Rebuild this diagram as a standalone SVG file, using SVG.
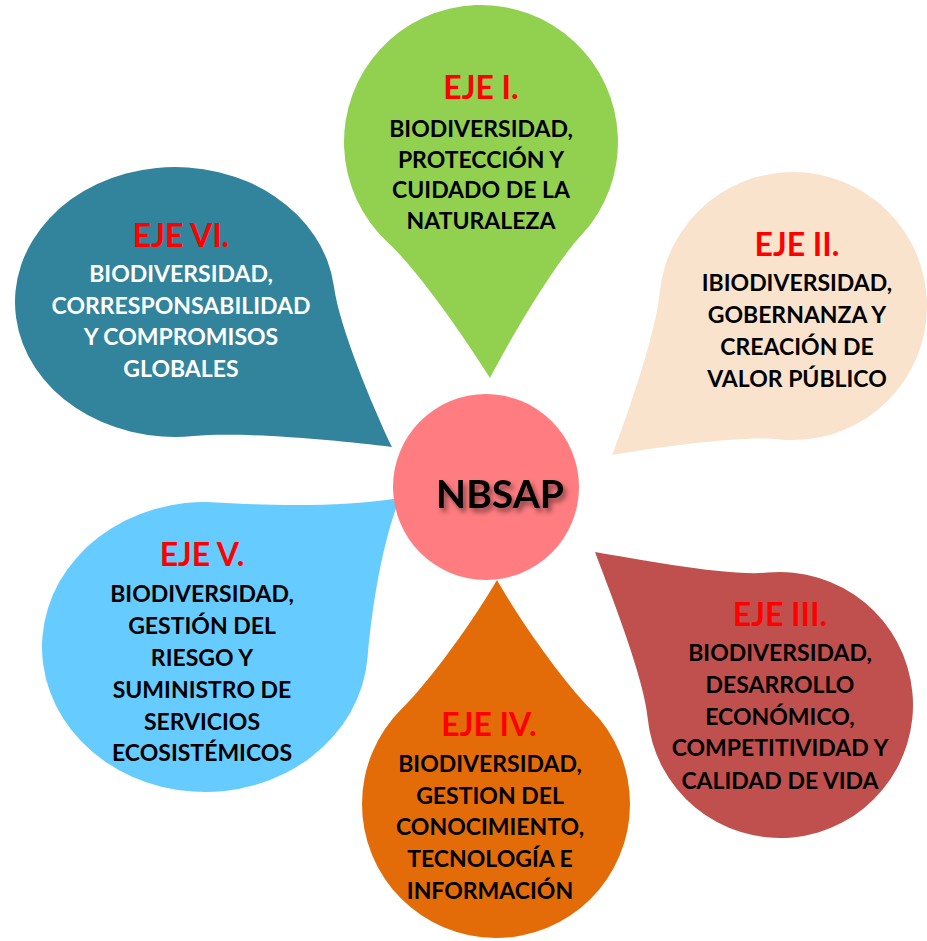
<svg xmlns="http://www.w3.org/2000/svg" width="927" height="941" viewBox="0 0 927 941">
<defs>
<style>
.t{font-family:Lato,"Liberation Sans",sans-serif;font-weight:700;text-anchor:middle}
.h{font-size:32px;fill:#FF0000}
.b{font-size:23px;fill:#000000}
.w{fill:#FFFFFF}
.c{font-size:39px;fill:#000000}
</style>
<filter id="sh" x="-20%" y="-30%" width="140%" height="170%">
<feDropShadow dx="3" dy="4" stdDeviation="2.5" flood-color="#000000" flood-opacity="0.45"/>
</filter>
</defs>
<rect width="927" height="941" fill="#FFFFFF"/>

<g id="eje1">
<path transform="translate(481 142) rotate(87.82) scale(137)" fill="#92D050" d="M0.7071 -0.7071 C0.919 -0.495 1.419 -0.175 1.724 0 C1.419 0.175 0.919 0.495 0.7071 0.7071 A1 1 0 1 1 0.7071 -0.7071Z"/>
<text class="t h" x="481" y="99">EJE I.</text>
<text class="t b"><tspan x="481" y="137">BIODIVERSIDAD,</tspan><tspan x="481" y="167.5">PROTECCIÓN Y</tspan><tspan x="481" y="198">CUIDADO DE LA</tspan><tspan x="481" y="228.5">NATURALEZA</tspan></text>
</g>

<g id="eje2">
<path transform="translate(793 306) rotate(140.5) scale(134)" fill="#FAE3CD" d="M0.7071 -0.7071 C0.919 -0.495 1.444 -0.175 1.749 0 C1.444 0.175 0.919 0.495 0.7071 0.7071 A1 1 0 1 1 0.7071 -0.7071Z"/>
<text class="t h" x="797" y="256">EJE II.</text>
<text class="t b"><tspan x="797" y="290.5">IBIODIVERSIDAD,</tspan><tspan x="797" y="323">GOBERNANZA Y</tspan><tspan x="797" y="355">CREACIÓN DE</tspan><tspan x="797" y="387">VALOR PÚBLICO</tspan></text>
</g>

<g id="eje3">
<path transform="translate(780 705) rotate(-140.4) scale(133)" fill="#C0504D" d="M0.7071 -0.7071 C0.919 -0.495 1.5 -0.175 1.805 0 C1.5 0.175 0.919 0.495 0.7071 0.7071 A1 1 0 1 1 0.7071 -0.7071Z"/>
<text class="t h" x="780" y="626">EJE III.</text>
<text class="t b"><tspan x="780" y="660.5">BIODIVERSIDAD,</tspan><tspan x="780" y="692.5">DESARROLLO</tspan><tspan x="780" y="724.5">ECONÓMICO,</tspan><tspan x="780" y="756">COMPETITIVIDAD Y</tspan><tspan x="780" y="788.5">CALIDAD DE VIDA</tspan></text>
</g>

<g id="eje4">
<path transform="translate(496 804) rotate(-89.74) scale(134)" fill="#E36C09" d="M0.7071 -0.7071 C0.919 -0.495 1.367 -0.175 1.672 0 C1.367 0.175 0.919 0.495 0.7071 0.7071 A1 1 0 1 1 0.7071 -0.7071Z"/>
<text class="t h" x="489" y="735.5">EJE IV.</text>
<text class="t b"><tspan x="490" y="771.5">BIODIVERSIDAD,</tspan><tspan x="490" y="803.5">GESTION DEL</tspan><tspan x="490" y="835">CONOCIMIENTO,</tspan><tspan x="490" y="867">TECNOLOGÍA E</tspan><tspan x="490" y="898.5">INFORMACIÓN</tspan></text>
</g>

<g id="eje5">
<path transform="translate(205 647) scale(163 145) rotate(-40.7)" fill="#66CCFF" d="M0.7071 -0.7071 C0.919 -0.495 1.272 -0.175 1.577 0 C1.272 0.175 0.919 0.495 0.7071 0.7071 A1 1 0 1 1 0.7071 -0.7071Z"/>
<text class="t h" x="202" y="566">EJE V.</text>
<text class="t b"><tspan x="202" y="601.5">BIODIVERSIDAD,</tspan><tspan x="202" y="633.5">GESTIÓN DEL</tspan><tspan x="202" y="665.5">RIESGO Y</tspan><tspan x="202" y="697.5">SUMINISTRO DE</tspan><tspan x="202" y="729.5">SERVICIOS</tspan><tspan x="202" y="761">ECOSISTÉMICOS</tspan></text>
</g>

<g id="eje6">
<path transform="translate(175 302) scale(160 135) rotate(38.4)" fill="#31849B" d="M0.7071 -0.7071 C0.919 -0.495 1.425 -0.175 1.73 0 C1.425 0.175 0.919 0.495 0.7071 0.7071 A1 1 0 1 1 0.7071 -0.7071Z"/>
<text class="t h" x="181" y="247">EJE VI.</text>
<text class="t b w"><tspan x="181" y="281.5">BIODIVERSIDAD,</tspan><tspan x="181" y="313.5">CORRESPONSABILIDAD</tspan><tspan x="181" y="345">Y COMPROMISOS</tspan><tspan x="181" y="377">GLOBALES</tspan></text>
</g>

<g id="nbsap">
<circle cx="486" cy="487" r="93" fill="#FF7C80"/>
<text class="t c" x="500" y="508" filter="url(#sh)">NBSAP</text>
</g>
</svg>
